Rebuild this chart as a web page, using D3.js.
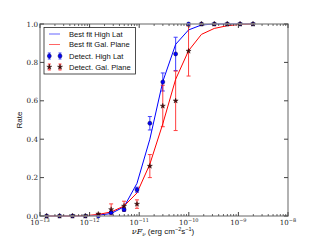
<!DOCTYPE html>
<html>
<head>
<script src="https://cdn.jsdelivr.net/npm/d3@7/dist/d3.min.js"></script>
</head>
<body style='margin: 0;padding: 0;background: white'>
<div id="chart"></div>
<script>

// flux bins (erg cm^-2 s^-1)
const flux = [1.36e-13, 2.48e-13, 4.52e-13, 8.22e-13, 1.50e-12, 2.72e-12, 4.95e-12, 9.02e-12,
              1.64e-11, 2.99e-11, 5.43e-11, 9.89e-11, 1.80e-10, 3.27e-10, 5.96e-10, 1.08e-9, 1.97e-9]

const highLatFit = [0, 0, 0, 0.001, 0.004, 0.013, 0.048, 0.17, 0.40, 0.70, 0.894, 0.969, 0.995, 1, 1, 1, 1]
const galFit     = [0, 0, 0, 0.002, 0.008, 0.021, 0.052, 0.12, 0.27, 0.48, 0.712, 0.861, 0.946, 0.977, 0.991, 0.998, 1]

const highLatRate = [0, 0, 0, 0, 0, 0.017, 0.033, 0.137, 0.483, 0.698, 0.844, 1, 1, 1, 1, 1, 1]
const highLatErr  = [0, 0, 0, 0, 0, 0.005, 0.008, 0.013, 0.035, 0.047, 0.087, 0, 0, 0, 0, 0, 0]
const galRate = [0, 0, 0, 0, 0.01, 0.034, 0.052, 0.062, 0.26, 0.573, 0.60, 0.859, 1, 1, 1, 1, 1]
const galErr  = [0, 0, 0, 0, 0.004, 0.029, 0.025, 0.022, 0.06, 0.108, 0.155, 0.13, 0, 0, 0, 0, 0]

const yTicks = [0, 0.2, 0.4, 0.6, 0.8, 1.0]
const xTicks = [1e-13, 1e-12, 1e-11, 1e-10, 1e-9, 1e-8]
const xTickExp = ['−13', '−12', '−11', '−10', '−9', '−8']

const legendLabels = ['Best fit High Lat', 'Best fit Gal. Plane', 'Detect. High Lat', 'Detect. Gal. Plane']

const W = 320, H = 240
const pLeft = 40, pRight = 288, pTop = 24, pBottom = 216
const serif = "'DejaVu Serif', 'Liberation Serif', serif"
const sans = "'Liberation Sans', Arial, sans-serif"
const blue = '#0000ff', red = '#ff0000'

const svg = d3.select('#chart').append('svg').attr('width', W).attr('height', H)

const x = d3.scaleLog().domain([1e-13, 1e-8]).range([pLeft, pRight])
const y = d3.scaleLinear().domain([0, 1]).range([pBottom, pTop])

// fit lines
const line = d3.line().x((d, i) => x(flux[i])).y(d => y(d))
svg.append('path').attr('d', line(highLatFit)).attr('fill', 'none').attr('stroke', blue).attr('stroke-width', 1)
svg.append('path').attr('d', line(galFit)).attr('fill', 'none').attr('stroke', red).attr('stroke-width', 1)

// error bars
function errBars(rate, err, col) {
  const g = svg.append('g').attr('stroke', col).attr('stroke-width', 1).attr('opacity', 0.75)
  rate.forEach((r, i) => {
    if (err[i] <= 0) return
    const cx = x(flux[i])
    g.append('line').attr('x1', cx).attr('x2', cx).attr('y1', y(r - err[i])).attr('y2', y(r + err[i]))
    g.append('line').attr('x1', cx - 2).attr('x2', cx + 2).attr('y1', y(r - err[i])).attr('y2', y(r - err[i]))
    g.append('line').attr('x1', cx - 2).attr('x2', cx + 2).attr('y1', y(r + err[i])).attr('y2', y(r + err[i]))
  })
}
errBars(highLatRate, highLatErr, blue)
errBars(galRate, galErr, red)

const star = d3.symbol().type(d3.symbolStar).size(8)

svg.selectAll('.bdot').data(highLatRate).enter().append('circle')
  .attr('cx', (d, i) => x(flux[i])).attr('cy', d => y(d)).attr('r', 2)
  .attr('fill', blue).attr('stroke', '#000044').attr('stroke-width', 0.5)

svg.selectAll('.rstar').data(galRate).enter().append('path')
  .attr('d', star)
  .attr('transform', (d, i) => 'translate(' + x(flux[i]) + ',' + y(d) + ')')
  .attr('fill', '#4a0c0c').attr('stroke', '#1a0000').attr('stroke-width', 0.4)

// frame
svg.append('rect').attr('x', pLeft).attr('y', pTop).attr('width', pRight - pLeft).attr('height', pBottom - pTop)
  .attr('fill', 'none').attr('stroke', '#999999').attr('stroke-width', 1.5)

// y ticks
yTicks.forEach(t => {
  svg.append('line').attr('x1', pLeft).attr('x2', pLeft + 4).attr('y1', y(t)).attr('y2', y(t)).attr('stroke', '#444')
  svg.append('line').attr('x1', pRight - 4).attr('x2', pRight).attr('y1', y(t)).attr('y2', y(t)).attr('stroke', '#444')
  svg.append('text').text(t.toFixed(1)).attr('x', pLeft - 2).attr('y', y(t) + 2.5)
    .attr('text-anchor', 'end').attr('font-family', serif).attr('font-size', 7.2).attr('fill', '#222')
})

// x ticks, major and minor
xTicks.forEach((t, k) => {
  [pBottom, pTop].forEach(b => {
    const s = b == pBottom ? -1 : 1
    svg.append('line').attr('x1', x(t)).attr('x2', x(t)).attr('y1', b).attr('y2', b + s * 4).attr('stroke', '#444')
    if (k < xTicks.length - 1) {
      for (let m = 2; m <= 9; m++) {
        const xm = x(t * m)
        svg.append('line').attr('x1', xm).attr('x2', xm).attr('y1', b).attr('y2', b + s * 2).attr('stroke', '#444').attr('stroke-width', 0.8)
      }
    }
  })
  const lab = svg.append('text').attr('x', x(t)).attr('y', pBottom + 9)
    .attr('text-anchor', 'middle').attr('font-family', serif).attr('font-size', 7).attr('fill', '#222')
  lab.append('tspan').text('10')
  lab.append('tspan').text(xTickExp[k]).attr('font-size', 5).attr('dy', -3)
})

// axis labels
svg.append('text').text('Rate').attr('transform', 'translate(22,120) rotate(-90)')
  .attr('text-anchor', 'middle').attr('font-family', sans).attr('font-size', 8).attr('fill', '#111')

const xl = svg.append('text').attr('x', 163).attr('y', 234).attr('text-anchor', 'middle')
  .attr('font-family', sans).attr('font-size', 8).attr('fill', '#111')
xl.append('tspan').text('νF').attr('font-family', serif).attr('font-style', 'italic')
xl.append('tspan').text('ν').attr('font-family', serif).attr('font-style', 'italic').attr('font-size', 5.5).attr('dy', 1.5)
xl.append('tspan').text(' (erg cm').attr('dy', -1.5)
xl.append('tspan').text('−2').attr('font-size', 5.5).attr('dy', -3)
xl.append('tspan').text('s').attr('dy', 3)
xl.append('tspan').text('−1').attr('font-size', 5.5).attr('dy', -3)
xl.append('tspan').text(')').attr('dy', 3)

// legend
const lg = svg.append('g')
lg.append('rect').attr('x', 44).attr('y', 27.5).attr('width', 91.5).attr('height', 46.5)
  .attr('fill', 'white').attr('stroke', '#222').attr('stroke-width', 0.8)
const rowY = [34, 44.5, 56, 67]
legendLabels.forEach((l, i) => {
  lg.append('text').text(l).attr('x', 69).attr('y', rowY[i] + 2.7)
    .attr('font-family', sans).attr('font-size', 7.6).attr('fill', '#111')
})
lg.append('line').attr('x1', 49).attr('x2', 60).attr('y1', rowY[0]).attr('y2', rowY[0]).attr('stroke', blue).attr('opacity', 0.6)
lg.append('line').attr('x1', 49).attr('x2', 60).attr('y1', rowY[1]).attr('y2', rowY[1]).attr('stroke', red).attr('opacity', 0.6)
;[49.3, 60].forEach(px => {
  [[rowY[2], blue], [rowY[3], red]].forEach(([py, col]) => {
    lg.append('line').attr('x1', px).attr('x2', px).attr('y1', py - 3).attr('y2', py + 3).attr('stroke', col).attr('opacity', 0.75)
    lg.append('line').attr('x1', px - 1.5).attr('x2', px + 1.5).attr('y1', py - 3).attr('y2', py - 3).attr('stroke', col).attr('opacity', 0.75)
    lg.append('line').attr('x1', px - 1.5).attr('x2', px + 1.5).attr('y1', py + 3).attr('y2', py + 3).attr('stroke', col).attr('opacity', 0.75)
  })
  lg.append('circle').attr('cx', px).attr('cy', rowY[2]).attr('r', 2).attr('fill', blue).attr('stroke', '#000044').attr('stroke-width', 0.5)
  lg.append('path').attr('d', star).attr('transform', 'translate(' + px + ',' + rowY[3] + ')')
    .attr('fill', '#4a0c0c').attr('stroke', '#1a0000').attr('stroke-width', 0.4)
})

</script>
</body>
</html>
